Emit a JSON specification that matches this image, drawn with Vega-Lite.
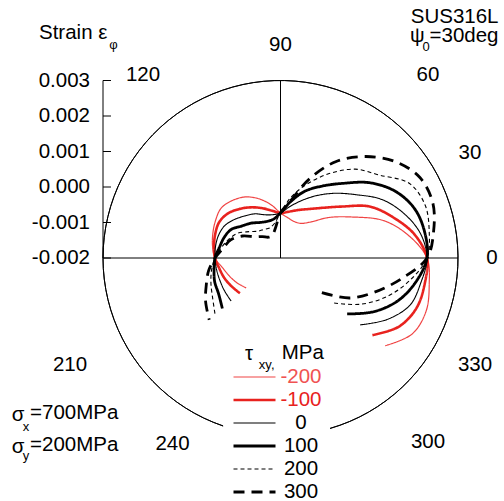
{
  "$schema": "https://vega.github.io/schema/vega-lite/v6.json",
  "width": 355,
  "height": 355,
  "autosize": {"type": "none"},
  "padding": {"left": 103, "top": 80.5, "right": 46, "bottom": 65.5},
  "config": {"view": {"stroke": null}, "font": "Liberation Sans"},
  "datasets": {
    "curves": [
      {"tau":-200,"phi":-40,"strain":0.001845},{"tau":-200,"phi":-30,"strain":0.002282},{"tau":-200,"phi":-20,"strain":0.002366},{"tau":-200,"phi":-10,"strain":0.002254},{"tau":-200,"phi":0,"strain":0.002127},{"tau":-200,"phi":10,"strain":0.001662},{"tau":-200,"phi":20,"strain":0.001085},{"tau":-200,"phi":30,"strain":0.000310},{"tau":-200,"phi":40,"strain":-0.000225},{"tau":-200,"phi":50,"strain":-0.000676},{"tau":-200,"phi":60,"strain":-0.000873},{"tau":-200,"phi":70,"strain":-0.000901},{"tau":-200,"phi":80,"strain":-0.000845},{"tau":-200,"phi":90,"strain":-0.000732},{"tau":-200,"phi":100,"strain":-0.000479},{"tau":-200,"phi":110,"strain":-0.000225},{"tau":-200,"phi":120,"strain":-0.000014},{"tau":-200,"phi":130,"strain":0.000113},{"tau":-200,"phi":140,"strain":0.000183},{"tau":-200,"phi":150,"strain":0.000113},{"tau":-200,"phi":160,"strain":0.000028},{"tau":-200,"phi":170,"strain":-0.000056},{"tau":-200,"phi":180,"strain":-0.000155},{"tau":-200,"phi":190,"strain":-0.000352},{"tau":-200,"phi":200,"strain":-0.000479},{"tau":-200,"phi":210,"strain":-0.000592},{"tau":-200,"phi":221,"strain":-0.000718},
      {"tau":-100,"phi":-40,"strain":0.001380},{"tau":-100,"phi":-30,"strain":0.001859},{"tau":-100,"phi":-20,"strain":0.002085},{"tau":-100,"phi":-10,"strain":0.002127},{"tau":-100,"phi":0,"strain":0.002127},{"tau":-100,"phi":10,"strain":0.001831},{"tau":-100,"phi":20,"strain":0.001366},{"tau":-100,"phi":30,"strain":0.000901},{"tau":-100,"phi":40,"strain":0.000254},{"tau":-100,"phi":50,"strain":-0.000155},{"tau":-100,"phi":60,"strain":-0.000408},{"tau":-100,"phi":70,"strain":-0.000563},{"tau":-100,"phi":80,"strain":-0.000676},{"tau":-100,"phi":90,"strain":-0.000732},{"tau":-100,"phi":100,"strain":-0.000648},{"tau":-100,"phi":110,"strain":-0.000507},{"tau":-100,"phi":120,"strain":-0.000352},{"tau":-100,"phi":130,"strain":-0.000197},{"tau":-100,"phi":140,"strain":-0.000056},{"tau":-100,"phi":150,"strain":0.000000},{"tau":-100,"phi":160,"strain":-0.000042},{"tau":-100,"phi":170,"strain":-0.000099},{"tau":-100,"phi":180,"strain":-0.000155},{"tau":-100,"phi":190,"strain":-0.000254},{"tau":-100,"phi":200,"strain":-0.000324},{"tau":-100,"phi":210,"strain":-0.000408},{"tau":-100,"phi":221,"strain":-0.000486},
      {"tau":0,"phi":-40,"strain":0.000930},{"tau":0,"phi":-30,"strain":0.001465},{"tau":0,"phi":-20,"strain":0.001882},{"tau":0,"phi":-10,"strain":0.002014},{"tau":0,"phi":0,"strain":0.002127},{"tau":0,"phi":10,"strain":0.002000},{"tau":0,"phi":20,"strain":0.001690},{"tau":0,"phi":30,"strain":0.001296},{"tau":0,"phi":40,"strain":0.000775},{"tau":0,"phi":50,"strain":0.000380},{"tau":0,"phi":60,"strain":0.000028},{"tau":0,"phi":70,"strain":-0.000282},{"tau":0,"phi":80,"strain":-0.000535},{"tau":0,"phi":90,"strain":-0.000732},{"tau":0,"phi":100,"strain":-0.000761},{"tau":0,"phi":110,"strain":-0.000704},{"tau":0,"phi":120,"strain":-0.000563},{"tau":0,"phi":130,"strain":-0.000451},{"tau":0,"phi":140,"strain":-0.000310},{"tau":0,"phi":150,"strain":-0.000183},{"tau":0,"phi":160,"strain":-0.000141},{"tau":0,"phi":170,"strain":-0.000141},{"tau":0,"phi":180,"strain":-0.000155},{"tau":0,"phi":190,"strain":-0.000169},{"tau":0,"phi":200,"strain":-0.000180},{"tau":0,"phi":210,"strain":-0.000172},{"tau":0,"phi":221,"strain":-0.000155},
      {"tau":100,"phi":-40,"strain":0.000451},{"tau":100,"phi":-30,"strain":0.001028},{"tau":100,"phi":-20,"strain":0.001521},{"tau":100,"phi":-10,"strain":0.001873},{"tau":100,"phi":0,"strain":0.002127},{"tau":100,"phi":10,"strain":0.002127},{"tau":100,"phi":20,"strain":0.002028},{"tau":100,"phi":30,"strain":0.001746},{"tau":100,"phi":40,"strain":0.001296},{"tau":100,"phi":50,"strain":0.000746},{"tau":100,"phi":60,"strain":0.000338},{"tau":100,"phi":70,"strain":0.000000},{"tau":100,"phi":80,"strain":-0.000394},{"tau":100,"phi":90,"strain":-0.000732},{"tau":100,"phi":100,"strain":-0.000887},{"tau":100,"phi":110,"strain":-0.000901},{"tau":100,"phi":120,"strain":-0.000845},{"tau":100,"phi":130,"strain":-0.000718},{"tau":100,"phi":140,"strain":-0.000592},{"tau":100,"phi":150,"strain":-0.000394},{"tau":100,"phi":160,"strain":-0.000310},{"tau":100,"phi":170,"strain":-0.000254},{"tau":100,"phi":180,"strain":-0.000155},{"tau":100,"phi":190,"strain":-0.000099},{"tau":100,"phi":200,"strain":-0.000028},{"tau":100,"phi":210,"strain":0.000014},{"tau":100,"phi":221,"strain":0.000170},
      {"tau":200,"phi":-40,"strain":-0.000028},{"tau":200,"phi":-30,"strain":0.000606},{"tau":200,"phi":-20,"strain":0.001183},{"tau":200,"phi":-10,"strain":0.001690},{"tau":200,"phi":0,"strain":0.002127},{"tau":200,"phi":10,"strain":0.002254},{"tau":200,"phi":20,"strain":0.002338},{"tau":200,"phi":30,"strain":0.002197},{"tau":200,"phi":40,"strain":0.001634},{"tau":200,"phi":50,"strain":0.001268},{"tau":200,"phi":60,"strain":0.000746},{"tau":200,"phi":70,"strain":0.000225},{"tau":200,"phi":80,"strain":-0.000254},{"tau":200,"phi":90,"strain":-0.000732},{"tau":200,"phi":100,"strain":-0.001014},{"tau":200,"phi":110,"strain":-0.001099},{"tau":200,"phi":120,"strain":-0.001070},{"tau":200,"phi":130,"strain":-0.001014},{"tau":200,"phi":140,"strain":-0.000845},{"tau":200,"phi":150,"strain":-0.000606},{"tau":200,"phi":160,"strain":-0.000451},{"tau":200,"phi":170,"strain":-0.000310},{"tau":200,"phi":180,"strain":-0.000155},{"tau":200,"phi":190,"strain":-0.000028},{"tau":200,"phi":200,"strain":0.000085},{"tau":200,"phi":210,"strain":0.000211},{"tau":200,"phi":221,"strain":0.000440},
      {"tau":300,"phi":-40,"strain":-0.000479},{"tau":300,"phi":-30,"strain":0.000254},{"tau":300,"phi":-20,"strain":0.000817},{"tau":300,"phi":-10,"strain":0.001437},{"tau":300,"phi":0,"strain":0.002127},{"tau":300,"phi":10,"strain":0.002380},{"tau":300,"phi":20,"strain":0.002563},{"tau":300,"phi":30,"strain":0.002535},{"tau":300,"phi":40,"strain":0.002225},{"tau":300,"phi":50,"strain":0.001732},{"tau":300,"phi":60,"strain":0.001141},{"tau":300,"phi":70,"strain":0.000366},{"tau":300,"phi":80,"strain":-0.000366},{"tau":300,"phi":90,"strain":-0.000732},{"tau":300,"phi":100,"strain":-0.001155},{"tau":300,"phi":110,"strain":-0.001324},{"tau":300,"phi":120,"strain":-0.001324},{"tau":300,"phi":130,"strain":-0.001211},{"tau":300,"phi":140,"strain":-0.001070},{"tau":300,"phi":150,"strain":-0.000761},{"tau":300,"phi":160,"strain":-0.000507},{"tau":300,"phi":170,"strain":-0.000366},{"tau":300,"phi":180,"strain":-0.000155},{"tau":300,"phi":190,"strain":0.000056},{"tau":300,"phi":200,"strain":0.000225},{"tau":300,"phi":210,"strain":0.000437},{"tau":300,"phi":221,"strain":0.000660}
    ],
    "yticks": [
      {"v":0.005,"lab":"0.003"},{"v":0.004,"lab":"0.002"},{"v":0.003,"lab":"0.001"},
      {"v":0.002,"lab":"0.000"},{"v":0.001,"lab":"-0.001"},{"v":0.0,"lab":"-0.002"}
    ],
    "ang": [
      {"x":0.005958,"y":0.0,"t":"0"},
      {"x":0.005338,"y":0.002958,"t":"30"},
      {"x":0.004155,"y":0.005155,"t":"60"},
      {"x":0.0,"y":0.006,"t":"90"},
      {"x":-0.003873,"y":0.005155,"t":"120"},
      {"x":-0.005930,"y":-0.003014,"t":"210"},
      {"x":-0.003042,"y":-0.005239,"t":"240"},
      {"x":0.004155,"y":-0.005183,"t":"300"},
      {"x":0.005479,"y":-0.003014,"t":"330"}
    ],
    "txtL": [
      {"x":-0.006803,"y":0.006352,"t":"Strain ε"},
      {"x":0.003648,"y":0.006240,"t":"ψ"},
      {"x":-0.007572,"y":-0.004423,"t":"σ"},
      {"x":-0.007056,"y":-0.004366,"t":"=700MPa"},
      {"x":-0.007572,"y":-0.005310,"t":"σ"},
      {"x":-0.007056,"y":-0.005268,"t":"=200MPa"},
      {"x":-0.001000,"y":-0.002704,"t":"τ"},
      {"x":0.000034,"y":-0.002685,"t":"MPa"}
    ],
    "txtR": [
      {"x":0.006141,"y":0.006780,"t":"SUS316L"},
      {"x":0.006141,"y":0.006260,"t":"=30deg"}
    ],
    "sub": [
      {"x":-0.004704,"y":0.006014,"t":"φ"},
      {"x":0.004099,"y":0.005940,"t":"0"},
      {"x":-0.007169,"y":-0.004752,"t":"x"},
      {"x":-0.007169,"y":-0.005577,"t":"y"},
      {"x":-0.000389,"y":-0.003014,"t":"xy,"}
    ]
  },
  "layer": [
    {
      "data": {"values": [{}]},
      "mark": {"type": "arc", "radius": 177.5, "radius2": 177.5, "theta": 3.471, "theta2": 9.142, "filled": false, "color": "black", "strokeWidth": 1}
    },
    {
      "data": {"values": [{}]},
      "mark": {"type": "rule", "color": "black", "strokeWidth": 1},
      "encoding": {
        "x": {"datum": -0.005, "type": "quantitative", "scale": {"domain": [-0.005, 0.005], "nice": false, "zero": false}, "axis": null},
        "x2": {"datum": 0.005},
        "y": {"datum": 0, "type": "quantitative", "scale": {"domain": [-0.005, 0.005], "nice": false, "zero": false}, "axis": null}
      }
    },
    {
      "data": {"values": [{}]},
      "mark": {"type": "rule", "color": "black", "strokeWidth": 1},
      "encoding": {
        "x": {"datum": 0, "type": "quantitative", "axis": null},
        "y": {"datum": 0, "type": "quantitative", "axis": null},
        "y2": {"datum": 0.005}
      }
    },
    {
      "data": {"values": [{}]},
      "mark": {"type": "rule", "color": "black", "strokeWidth": 1},
      "encoding": {
        "x": {"datum": -0.005, "type": "quantitative", "axis": null},
        "y": {"datum": 0, "type": "quantitative", "axis": null},
        "y2": {"datum": 0.005}
      }
    },
    {
      "data": {"name": "yticks"},
      "mark": {"type": "rule", "color": "black", "strokeWidth": 1},
      "encoding": {
        "x": {"datum": -0.005, "type": "quantitative", "axis": null},
        "x2": {"datum": -0.004775},
        "y": {"field": "v", "type": "quantitative", "axis": null}
      }
    },
    {
      "data": {"name": "yticks"},
      "mark": {"type": "text", "align": "right", "baseline": "middle", "dx": -13, "fontSize": 20.5, "font": "Liberation Sans", "color": "black"},
      "encoding": {
        "x": {"datum": -0.005, "type": "quantitative", "axis": null},
        "y": {"field": "v", "type": "quantitative", "axis": null},
        "text": {"field": "lab"}
      }
    },
    {
      "data": {"name": "curves"},
      "transform": [
        {"calculate": "(datum.strain + 0.002) * cos(datum.phi * PI / 180)", "as": "px"},
        {"calculate": "(datum.strain + 0.002) * sin(datum.phi * PI / 180)", "as": "py"}
      ],
      "mark": {"type": "line", "interpolate": "catmull-rom"},
      "encoding": {
        "x": {"field": "px", "type": "quantitative", "scale": {"domain": [-0.005, 0.005], "nice": false, "zero": false}, "axis": null},
        "y": {"field": "py", "type": "quantitative", "scale": {"domain": [-0.005, 0.005], "nice": false, "zero": false}, "axis": null},
        "order": {"field": "phi", "type": "quantitative"},
        "color": {"field": "tau", "type": "ordinal",
                  "scale": {"domain": [-200, -100, 0, 100, 200, 300], "range": ["#f04444", "#e8221e", "#000000", "#000000", "#000000", "#000000"]},
                  "legend": {"orient": "none", "legendX": 139.5, "legendY": 285, "title": null, "padding": 0, "symbolType": "M-2,0H2", "symbolSize": 441, "labelOffset": 34.5, "labelAlign": "center", "rowPadding": 0.5, "labelFontSize": 20.5, "labelFont": "Liberation Sans", "labelColor": {"expr": "datum.value == -200 ? '#f05252' : datum.value == -100 ? '#e8221e' : 'black'"}}},
        "strokeWidth": {"field": "tau", "type": "ordinal",
                  "scale": {"type": "ordinal", "domain": [-200, -100, 0, 100, 200, 300], "range": [1.2, 2.6, 1.1, 2.8, 1.1, 2.8]},
                  "legend": {"orient": "none", "legendX": 139.5, "legendY": 285, "title": null, "padding": 0, "symbolType": "M-2,0H2", "symbolSize": 441, "labelOffset": 34.5, "labelAlign": "center", "rowPadding": 0.5, "labelFontSize": 20.5, "labelFont": "Liberation Sans", "labelColor": {"expr": "datum.value == -200 ? '#f05252' : datum.value == -100 ? '#e8221e' : 'black'"}}},
        "strokeDash": {"field": "tau", "type": "ordinal",
                  "scale": {"domain": [-200, -100, 0, 100, 200, 300], "range": [[1, 0], [1, 0], [1, 0], [1, 0], [4, 3], [11, 7]]},
                  "legend": {"orient": "none", "legendX": 139.5, "legendY": 285, "title": null, "padding": 0, "symbolType": "M-2,0H2", "symbolSize": 441, "labelOffset": 34.5, "labelAlign": "center", "rowPadding": 0.5, "labelFontSize": 20.5, "labelFont": "Liberation Sans", "labelColor": {"expr": "datum.value == -200 ? '#f05252' : datum.value == -100 ? '#e8221e' : 'black'"}}}
      }
    },
    {
      "data": {"name": "ang"},
      "mark": {"type": "text", "align": "center", "baseline": "middle", "fontSize": 20.5, "font": "Liberation Sans", "color": "black"},
      "encoding": {
        "x": {"field": "x", "type": "quantitative", "axis": null},
        "y": {"field": "y", "type": "quantitative", "axis": null},
        "text": {"field": "t"}
      }
    },
    {
      "data": {"name": "txtL"},
      "mark": {"type": "text", "align": "left", "baseline": "middle", "fontSize": 20.5, "font": "Liberation Sans", "color": "black"},
      "encoding": {
        "x": {"field": "x", "type": "quantitative", "axis": null},
        "y": {"field": "y", "type": "quantitative", "axis": null},
        "text": {"field": "t"}
      }
    },
    {
      "data": {"name": "txtR"},
      "mark": {"type": "text", "align": "right", "baseline": "middle", "fontSize": 20.5, "font": "Liberation Sans", "color": "black"},
      "encoding": {
        "x": {"field": "x", "type": "quantitative", "axis": null},
        "y": {"field": "y", "type": "quantitative", "axis": null},
        "text": {"field": "t"}
      }
    },
    {
      "data": {"name": "sub"},
      "mark": {"type": "text", "align": "center", "baseline": "middle", "fontSize": 13, "font": "Liberation Sans", "color": "black"},
      "encoding": {
        "x": {"field": "x", "type": "quantitative", "axis": null},
        "y": {"field": "y", "type": "quantitative", "axis": null},
        "text": {"field": "t"}
      }
    }
  ]
}
